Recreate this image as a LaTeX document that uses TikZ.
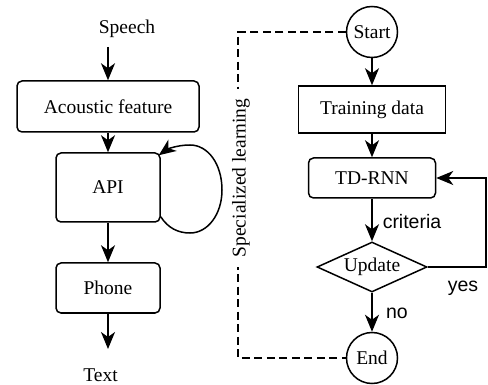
\documentclass[tikz,border=0pt]{standalone}
\usepackage{fontspec}
\setmainfont{Liberation Serif}
\newfontfamily\labelsans{Liberation Sans}
\usetikzlibrary{arrows.meta,shapes.geometric}
\begin{document}
\begin{tikzpicture}[x=1pt,y=-1pt,
  font=\fontsize{19.5}{23}\selectfont,
  line width=1.5pt,
  arr/.style={-{Stealth[length=17pt,width=14pt,inset=5pt]}},
  rbox/.style={draw, rounded corners=5pt, inner sep=0pt},
  sbox/.style={draw, inner sep=0pt},
  circ/.style={draw, circle, minimum size=51pt, inner sep=0pt},
  dia/.style={draw, diamond, minimum width=110pt, minimum height=50pt, inner sep=0pt, aspect=2.2},
  lbl/.style={font=\labelsans\fontsize{19.5}{23}\selectfont, inner sep=0pt},
  dashline/.style={dash pattern=on 8pt off 4.5pt}
]
\useasboundingbox (0,0) rectangle (488,385);

% left column: recognition pipeline
\node (speech) at (127,28.5) {Speech};
\node[rbox, minimum width=182pt, minimum height=51pt] (af) at (108,106.5) {Acoustic feature};
\node[rbox, minimum width=104pt, minimum height=69pt] (api) at (108,187.5) {API};
\node[rbox, minimum width=104pt, minimum height=50pt] (phone) at (108,288) {Phone};
\node (text) at (100.5,375) {Text};
\coordinate (sp) at (108,47);
\coordinate (tx) at (108,349);

\draw[arr] (sp) -- (af.north);
\draw[arr] (af) -- (api);
\draw[arr] (api) -- (phone);
\draw[arr] (phone.south) -- (tx);
% self loop on the API block
\draw[arr] ([shift={(0,-6)}]api.south east)
  .. controls (168,228) and (178,233) .. (190,233)
  .. controls (208,233) and (222,214) .. (222,190)
  .. controls (222,164) and (208,145) .. (190,145)
  .. controls (176,145) and (166,150) .. ([shift={(-2,3)}]api.north east);

% right column: training loop
\node[circ] (start) at (372,32) {Start};
\node[sbox, minimum width=147pt, minimum height=47pt] (train) at (372,109.5) {Training data};
\node[rbox, minimum width=127pt, minimum height=40pt] (td) at (372,178) {TD-RNN};
\node[dia] (upd) at (372,267) {Update};
\node[circ] (end) at (372,358) {End};

\draw[arr] (start) -- (train);
\draw[arr] (train) -- (td);
\draw[arr] (td) -- (upd);
\draw[arr] (upd) -- (end);
\draw[arr] (upd.east) -- ++(58,0) |- (td.east);

\node[lbl, anchor=west] (crit) at (382,222) {criteria};
\node[lbl] (yes) at (463,288) {yes};
\node[lbl] (no) at (397,313) {no};

% dashed bracket joining Start and End
\coordinate (dv) at (238,200);
\draw[dashline] (start.west) -| (dv) |- (end.west);
\node[rotate=90, fill=white, inner xsep=10pt, inner ysep=1pt] (spec) at (241,178) {Specialized learning};
\end{tikzpicture}
\end{document}
